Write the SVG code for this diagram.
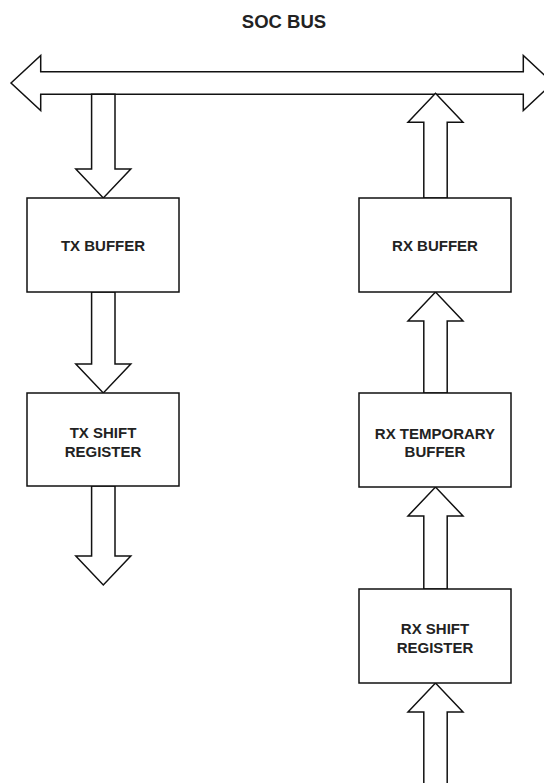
<svg xmlns="http://www.w3.org/2000/svg" width="544" height="783" viewBox="0 0 544 783">
  <style>
    .box { fill: #ffffff; stroke: #111111; stroke-width: 1.5; }
    .arrow { fill: #ffffff; stroke: #111111; stroke-width: 1.5; stroke-linejoin: miter; }
    .label { font-family: "Liberation Sans", Arial, Helvetica, sans-serif; font-weight: bold; font-size: 15px; fill: #222222; text-anchor: middle; }
    .title { font-family: "Liberation Sans", Arial, Helvetica, sans-serif; font-weight: bold; font-size: 18.5px; fill: #222222; text-anchor: middle; }
  </style>
  <rect width="544" height="783" fill="#ffffff"/>

  <!-- Bus title -->
  <text class="title" x="284" y="28">SOC BUS</text>

  <!-- Block arrows: the two-way bus and the data paths between blocks -->
  <g id="connectors">
    <polygon id="soc-bus" class="arrow" points="11,83 40.7,55.5 40.7,71.7 523.3,71.7 523.3,55.5 553,83 523.3,110.5 523.3,94.3 40.7,94.3 40.7,110.5"/>
    <!-- transmit path (downwards) -->
    <polygon class="arrow" points="91.6,94.3 115,94.3 115,169 130.8,169 103.3,198 75.8,169 91.6,169"/>
    <polygon class="arrow" points="91.6,292 115,292 115,364 130.8,364 103.3,393 75.8,364 91.6,364"/>
    <polygon class="arrow" points="91.6,486 115,486 115,556 130.8,556 103.3,585 75.8,556 91.6,556"/>
    <!-- receive path (upwards) -->
    <polygon class="arrow" points="423.8,198 423.8,122.3 408,122.3 435.5,93.3 463,122.3 447.2,122.3 447.2,198"/>
    <polygon class="arrow" points="423.8,393 423.8,321 408,321 435.5,292 463,321 447.2,321 447.2,393"/>
    <polygon class="arrow" points="423.8,589 423.8,516 408,516 435.5,487 463,516 447.2,516 447.2,589"/>
    <polygon class="arrow" points="423.8,800 423.8,712 408,712 435.5,683 463,712 447.2,712 447.2,800"/>
  </g>

  <g id="tx-buffer">
    <rect class="box" x="27" y="198" width="152" height="94"/>
    <text class="label" x="103" y="251">TX BUFFER</text>
  </g>

  <g id="tx-shift-register">
    <rect class="box" x="27" y="393" width="152" height="93"/>
    <text class="label" x="103" y="438.3">TX SHIFT</text>
    <text class="label" x="103" y="456.7">REGISTER</text>
  </g>

  <g id="rx-buffer">
    <rect class="box" x="359" y="198" width="152" height="94"/>
    <text class="label" x="435" y="251">RX BUFFER</text>
  </g>

  <g id="rx-temporary-buffer">
    <rect class="box" x="359" y="393" width="152" height="94"/>
    <text class="label" x="435" y="438.5">RX TEMPORARY</text>
    <text class="label" x="435" y="457">BUFFER</text>
  </g>

  <g id="rx-shift-register">
    <rect class="box" x="359" y="589" width="152" height="94"/>
    <text class="label" x="435" y="634.3">RX SHIFT</text>
    <text class="label" x="435" y="652.7">REGISTER</text>
  </g>
</svg>
